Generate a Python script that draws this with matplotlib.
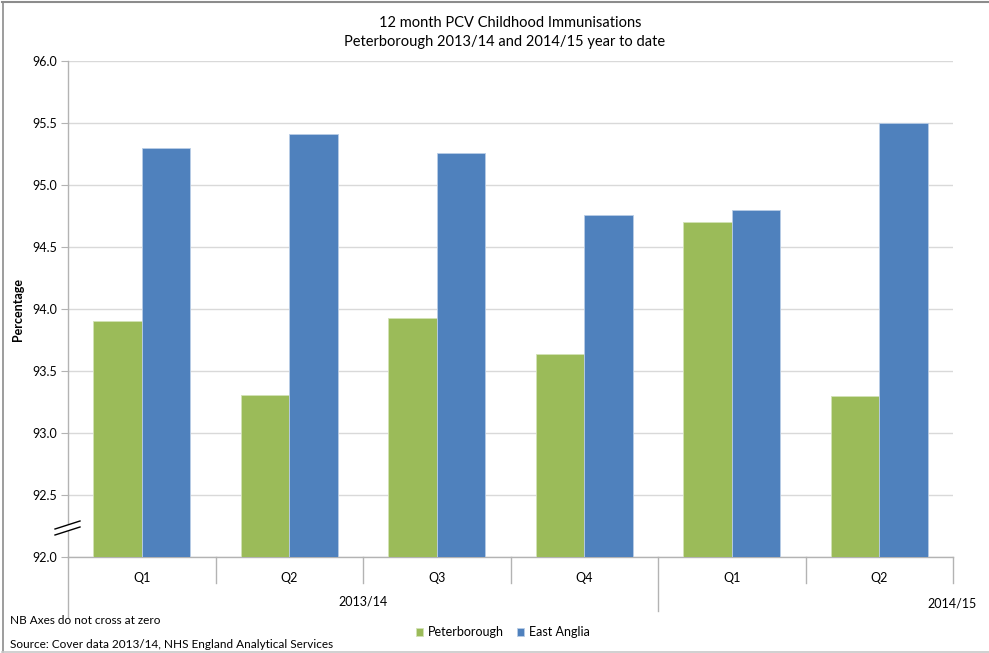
import matplotlib
matplotlib.use("Agg")
import matplotlib.pyplot as plt
import matplotlib.transforms as mtransforms
from matplotlib.patches import Polygon
from matplotlib.lines import Line2D
import numpy as np

# data
quarters = ["Q1", "Q2", "Q3", "Q4", "Q1", "Q2"]
years = ["2013/14", "2014/15"]
peterborough = [93.90, 93.31, 93.93, 93.64, 94.70, 93.30]
east_anglia = [95.30, 95.41, 95.26, 94.76, 94.80, 95.50]
yticks = [92.0, 92.5, 93.0, 93.5, 94.0, 94.5, 95.0, 95.5, 96.0]

green = '#9BBB59'
blue = '#4F81BD'
axis_grey = '#b3b3b3'

plt.rcParams['font.family'] = ['Lato', 'DejaVu Sans']

W, H = 989, 653


def fx(p):
    return p / W


def fy(p):
    return 1 - p / H


fig = plt.figure(figsize=(W / 100, H / 100), dpi=100)
ax = fig.add_axes([fx(68), fy(557), fx(953 - 68), (557 - 61) / H])

x = np.arange(len(quarters))
w = 0.33
ax.bar(x - w / 2, peterborough, w, color=green, edgecolor='#d3e2b6', linewidth=0.6,
       label='Peterborough', zorder=3)
ax.bar(x + w / 2, east_anglia, w, color=blue, edgecolor='#b9cde6', linewidth=0.6,
       label='East Anglia', zorder=3)

ax.set_xlim(-0.5, len(quarters) - 0.5)
ax.set_ylim(92, 96)
ax.set_yticks(yticks)
ax.set_yticklabels(["{:.1f}".format(v) for v in yticks], fontsize=9)
ax.set_xticks([])
ax.yaxis.grid(True, color='#d9d9d9', linewidth=1)
ax.set_axisbelow(True)
for s in ['top', 'right']:
    ax.spines[s].set_visible(False)
for s in ['left', 'bottom']:
    ax.spines[s].set_color(axis_grey)
    ax.spines[s].set_linewidth(1)
ax.tick_params(axis='y', length=5, color=axis_grey, pad=3)

# category axis drawn by hand: quarter separators and year separators
trans = mtransforms.blended_transform_factory(ax.transData, fig.transFigure)
n_first = 4
for i in range(len(quarters) + 1):
    xb = i - 0.5
    if i == 0:
        bottom = 617
    elif i == n_first:
        bottom = 611
    else:
        bottom = 583
    fig.add_artist(Line2D([xb, xb], [fy(557), fy(bottom)], transform=trans,
                          color=axis_grey, lw=1))
for i, q in enumerate(quarters):
    fig.text(i, fy(578), q, transform=trans, ha='center', va='center', fontsize=9)

fig.text((n_first - 1) / 2, fy(602), years[0], transform=trans, ha='center',
         va='center', fontsize=9)
fig.text(fx(977), fy(603), years[1], ha='right', va='center', fontsize=9)

# axis break marks
fig.add_artist(Polygon([(fx(55), fy(529)), (fx(80), fy(521)), (fx(80), fy(527)),
                        (fx(55), fy(535))], closed=True, transform=fig.transFigure,
                       facecolor='white', edgecolor='none', zorder=5))
for off in [0, 6]:
    fig.add_artist(Line2D([fx(55), fx(80)], [fy(529 + off), fy(521 + off)],
                          transform=fig.transFigure, color='black', lw=1, zorder=6))

# titles and notes
fig.text(fx(510), fy(23), '12 month PCV Childhood Immunisations', ha='center',
         va='center', fontsize=10.5)
fig.text(fx(505), fy(42), 'Peterborough 2013/14 and 2014/15 year to date', ha='center',
         va='center', fontsize=10.5)
fig.text(fx(18), fy(310), 'Percentage', rotation=90, ha='center', va='center',
         fontsize=9, fontweight='bold')
fig.text(fx(10), fy(620), 'NB Axes do not cross at zero', ha='left', va='center',
         fontsize=8.5)
fig.text(fx(10), fy(645), 'Source: Cover data 2013/14, NHS England Analytical Services',
         ha='left', va='center', fontsize=8.5)

handles, labels = ax.get_legend_handles_labels()
fig.legend(handles, labels, loc='center', bbox_to_anchor=(fx(503), fy(632)), ncol=2,
           frameon=False, fontsize=9, handlelength=0.6, handleheight=0.6,
           handletextpad=0.4, columnspacing=1.0)

# outer chart frame (top, left, bottom edges visible)
fig.add_artist(Line2D([fx(2), 1], [fy(1.5), fy(1.5)], transform=fig.transFigure,
                      color='#8c8c8c', lw=1.5))
fig.add_artist(Line2D([fx(2.5), fx(2.5)], [fy(1.5), fy(652)], transform=fig.transFigure,
                      color='#8c8c8c', lw=1.2))
fig.add_artist(Line2D([fx(2), 1], [fy(652), fy(652)], transform=fig.transFigure,
                      color='#c8c8c8', lw=1.2))

fig.savefig('out.png', dpi=100)
